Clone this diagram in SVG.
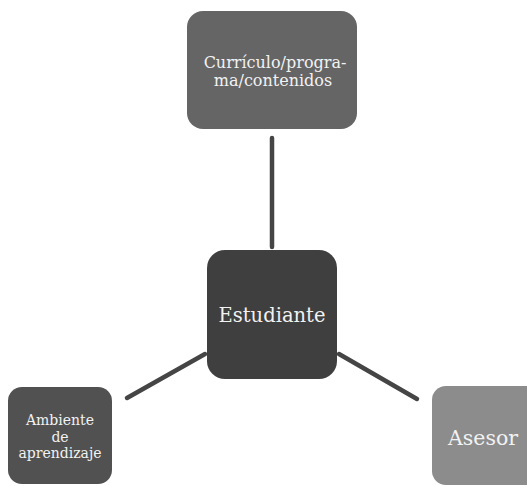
<svg xmlns="http://www.w3.org/2000/svg" width="527" height="486" viewBox="0 0 527 486">
  <style>
    .lbl { font-family: "DejaVu Serif", "Liberation Serif", serif; fill: #f2f2f2; text-anchor: middle; }
    .link { stroke: #454545; stroke-width: 4.5; stroke-linecap: round; fill: none; }
  </style>
  <rect width="527" height="486" fill="#ffffff"/>
  <g id="connectors">
    <line class="link" x1="272" y1="138" x2="272" y2="247"/>
    <line class="link" x1="127" y1="398" x2="205" y2="354"/>
    <line class="link" x1="339" y1="354" x2="417" y2="399"/>
  </g>
  <g id="curriculo">
    <rect x="187" y="11" width="170" height="118" rx="16" fill="#656565"/>
    <text class="lbl" x="275" y="68" font-size="16">Currículo/progra-</text>
    <text class="lbl" x="273" y="86" font-size="16">ma/contenidos</text>
  </g>
  <g id="estudiante">
    <rect x="207" y="250" width="130" height="129" rx="18" fill="#3f3f3f"/>
    <text class="lbl" x="272" y="322" font-size="19.5">Estudiante</text>
  </g>
  <g id="ambiente">
    <rect x="8" y="387" width="104" height="97" rx="14" fill="#515151"/>
    <text class="lbl" x="60" y="425" font-size="14">Ambiente</text>
    <text class="lbl" x="60" y="442" font-size="14">de</text>
    <text class="lbl" x="60" y="458" font-size="14">aprendizaje</text>
  </g>
  <g id="asesor">
    <rect x="432" y="386" width="110" height="99" rx="14" fill="#8c8c8c"/>
    <text class="lbl" x="483" y="445" font-size="20.5">Asesor</text>
  </g>
</svg>
